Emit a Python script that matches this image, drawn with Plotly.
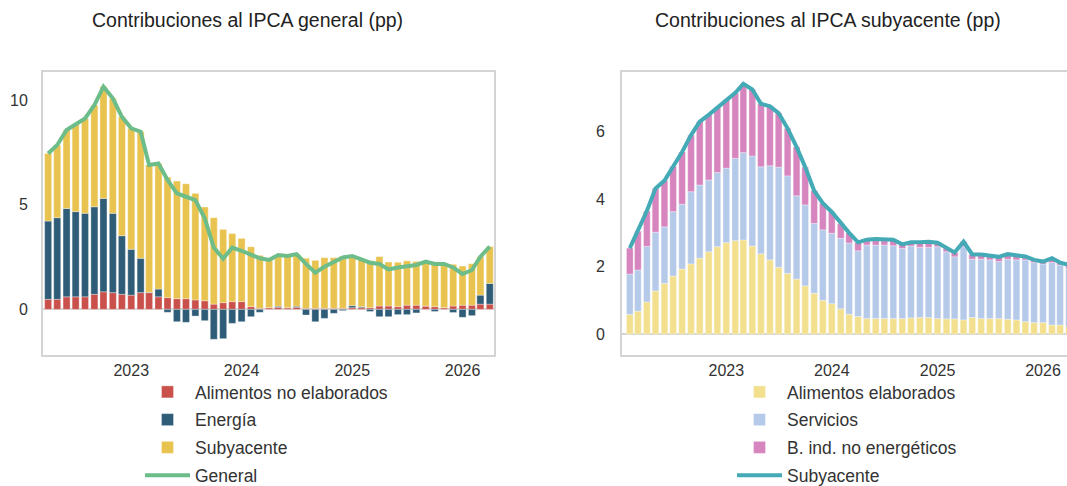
import plotly.graph_objects as go
import pandas as pd

# ---------------- data: left chart (Contribuciones al IPCA general) ----------------
months_general = pd.date_range("2022-04-01", periods=49, freq="MS")
alimentos_no_elab = [0.48, 0.48, 0.60, 0.60, 0.60, 0.72, 0.84, 0.80, 0.72, 0.68,
                     0.80, 0.80, 0.60, 0.56, 0.51, 0.51, 0.45, 0.41, 0.25, 0.32,
                     0.37, 0.37, 0.13, 0.05, 0.08, 0.10, 0.08, 0.10, 0.05, 0.05,
                     0.05, 0.05, 0.05, 0.08, 0.08, 0.08, 0.16, 0.16, 0.13, 0.20,
                     0.20, 0.16, 0.13, 0.08, 0.16, 0.20, 0.20, 0.25, 0.25]
energia = [3.74, 3.90, 4.22, 4.07, 3.99, 4.18, 4.46, 3.79, 2.80, 2.19,
           1.64, 0.02, 0.37, -0.14, -0.59, -0.62, -0.32, -0.54, -1.43, -1.40,
           -0.67, -0.59, -0.35, -0.14, 0.00, 0.05, 0.00, 0.05, -0.27, -0.59,
           -0.43, -0.19, -0.06, 0.10, 0.05, -0.10, -0.35, -0.35, -0.25, -0.25,
           -0.17, 0.00, -0.10, 0.00, -0.15, -0.38, -0.30, 0.43, 0.99]
subyacente_contrib = [3.23, 3.47, 3.75, 4.17, 4.53, 4.86, 5.34, 5.49, 5.68, 5.78,
                      6.05, 6.08, 6.00, 5.76, 5.62, 5.49, 5.09, 4.48, 4.13, 3.50,
                      3.25, 3.02, 2.86, 2.53, 2.28, 2.45, 2.47, 2.49, 2.39, 2.29,
                      2.42, 2.42, 2.49, 2.37, 2.26, 2.25, 2.36, 2.10, 2.12, 2.12,
                      2.09, 2.12, 2.14, 2.09, 1.99, 1.87, 1.98, 1.84, 1.76]
general = [7.45, 7.85, 8.57, 8.84, 9.12, 9.76, 10.64, 10.08, 9.20, 8.65,
           8.49, 6.90, 6.97, 6.18, 5.54, 5.38, 5.22, 4.35, 2.95, 2.42,
           2.95, 2.80, 2.64, 2.44, 2.36, 2.60, 2.55, 2.64, 2.17, 1.75,
           2.04, 2.28, 2.48, 2.55, 2.39, 2.23, 2.17, 1.91, 2.00, 2.07,
           2.12, 2.28, 2.17, 2.17, 2.00, 1.69, 1.88, 2.52, 3.00]

# ---------------- data: right chart (Contribuciones al IPCA subyacente) ----------------
months_core = pd.date_range("2022-02-01", periods=51, freq="MS")
alimentos_elab = [0.58, 0.68, 0.95, 1.28, 1.50, 1.72, 1.93, 2.08, 2.25, 2.44,
                  2.59, 2.71, 2.77, 2.79, 2.61, 2.38, 2.20, 1.98, 1.80, 1.63,
                  1.43, 1.21, 1.00, 0.90, 0.75, 0.59, 0.52, 0.46, 0.46, 0.46,
                  0.46, 0.46, 0.48, 0.49, 0.49, 0.46, 0.45, 0.45, 0.42, 0.49,
                  0.46, 0.46, 0.46, 0.44, 0.42, 0.37, 0.34, 0.34, 0.27, 0.27, 0.22]
servicios = [1.20, 1.22, 1.65, 1.74, 1.68, 1.91, 1.92, 2.14, 2.17, 2.13,
             2.20, 2.21, 2.44, 2.59, 2.67, 2.58, 2.79, 2.97, 2.89, 2.47,
             2.40, 2.07, 2.09, 2.09, 2.09, 2.11, 1.95, 2.18, 2.18, 2.18,
             2.16, 2.08, 2.13, 2.08, 2.08, 2.13, 1.99, 1.84, 2.17, 1.73,
             1.76, 1.74, 1.69, 1.78, 1.78, 1.83, 1.78, 1.74, 1.85, 1.78, 1.73]
bienes_no_energ = [0.77, 1.15, 1.05, 1.30, 1.37, 1.34, 1.55, 1.68, 1.88, 1.93,
                   1.93, 2.03, 1.94, 2.04, 1.97, 1.87, 1.76, 1.60, 1.41, 1.45,
                   1.12, 0.97, 0.79, 0.63, 0.44, 0.30, 0.25, 0.16, 0.18, 0.18,
                   0.18, 0.12, 0.11, 0.15, 0.17, 0.12, 0.12, 0.13, 0.15, 0.14,
                   0.14, 0.13, 0.14, 0.15, 0.15, 0.10, 0.08, 0.07, 0.13, 0.07, 0.10]
subyacente = [2.55, 3.05, 3.65, 4.32, 4.55, 4.97, 5.40, 5.90, 6.30, 6.50,
              6.72, 6.95, 7.15, 7.42, 7.25, 6.83, 6.75, 6.55, 6.10, 5.55,
              4.95, 4.25, 3.88, 3.62, 3.28, 3.00, 2.72, 2.80, 2.82, 2.82,
              2.80, 2.66, 2.72, 2.72, 2.74, 2.71, 2.56, 2.42, 2.74, 2.36,
              2.36, 2.33, 2.29, 2.37, 2.35, 2.30, 2.20, 2.15, 2.25, 2.12, 2.05]

year_ticks = ["2023-01-01", "2024-01-01", "2025-01-01", "2026-01-01"]
year_labels = ["2023", "2024", "2025", "2026"]

# ---------------- styling ----------------
W, H = 1067, 486
FONT = "Liberation Sans, Arial, sans-serif"
TXT = "#333333"
BORDER = "#d4d4d4"


def px_x(p):
    return p / W


def px_y(p):
    return 1 - p / H


fig = go.Figure()

bar_line = dict(color="rgba(255,255,255,0.55)", width=0.6)

fig.add_trace(go.Bar(x=months_general, y=alimentos_no_elab, name="Alimentos no elaborados",
                     marker=dict(color="#c9504b", line=bar_line), xaxis="x", yaxis="y",
                     legend="legend", legendgroup="a"))
fig.add_trace(go.Bar(x=months_general, y=energia, name="Energía",
                     marker=dict(color="#2f5d78", line=bar_line), xaxis="x", yaxis="y",
                     legend="legend", legendgroup="b"))
fig.add_trace(go.Bar(x=months_general, y=subyacente_contrib, name="Subyacente",
                     marker=dict(color="#e9c350", line=bar_line), xaxis="x", yaxis="y",
                     legend="legend", legendgroup="c"))
fig.add_trace(go.Scatter(x=months_general, y=general, name="General", mode="lines",
                         line=dict(color="#6dbd8a", width=4), xaxis="x", yaxis="y",
                         legend="legend", legendgroup="d"))

fig.add_trace(go.Bar(x=months_core, y=alimentos_elab, name="Alimentos elaborados",
                     marker=dict(color="#f3e08e", line=bar_line), xaxis="x2", yaxis="y2",
                     legend="legend2", legendgroup="e"))
fig.add_trace(go.Bar(x=months_core, y=servicios, name="Servicios",
                     marker=dict(color="#b5c9e9", line=bar_line), xaxis="x2", yaxis="y2",
                     legend="legend2", legendgroup="f"))
fig.add_trace(go.Bar(x=months_core, y=bienes_no_energ, name="B. ind. no energéticos",
                     marker=dict(color="#d785bf", line=bar_line), xaxis="x2", yaxis="y2",
                     legend="legend2", legendgroup="g"))
fig.add_trace(go.Scatter(x=months_core, y=subyacente, name="Subyacente", mode="lines",
                         line=dict(color="#43aab6", width=4), xaxis="x2", yaxis="y2",
                         legend="legend2", legendgroup="h"))

ydom = [px_y(355), px_y(72)]
axis_common = dict(showgrid=False, showline=True, linecolor=BORDER, linewidth=2,
                   automargin=False,
                   tickfont=dict(family=FONT, size=16, color=TXT))

legend_common = dict(xanchor="left", yanchor="top", traceorder="grouped",
                     tracegroupgap=2, itemwidth=45,
                     font=dict(family=FONT, size=17.5, color=TXT),
                     bgcolor="rgba(0,0,0,0)")

fig.update_layout(
    width=W, height=H,
    margin=dict(l=0, r=0, t=0, b=0, autoexpand=False),
    paper_bgcolor="white", plot_bgcolor="white",
    barmode="relative", bargap=0.17,
    font=dict(family=FONT, color=TXT),
    xaxis=dict(domain=[px_x(43), px_x(494)], anchor="y", type="date",
               range=["2022-03-15", "2026-04-15"], mirror=True,
               tickvals=year_ticks, ticktext=year_labels,
               ticks="outside", ticklen=0, tickcolor="rgba(0,0,0,0)", **axis_common),
    yaxis=dict(domain=ydom, anchor="x", range=[-2.18, 11.34], mirror=True,
               tickvals=[0, 5, 10], zeroline=True, zerolinecolor=BORDER, zerolinewidth=1.5,
               ticks="outside", ticklen=10, tickcolor="rgba(0,0,0,0)", **axis_common),
    xaxis2=dict(domain=[px_x(622), 1.0], anchor="y2", type="date",
                range=["2022-01-05", "2026-03-25"], mirror=True,
                tickvals=year_ticks, ticktext=year_labels,
                ticks="outside", ticklen=0, tickcolor="rgba(0,0,0,0)", **axis_common),
    yaxis2=dict(domain=ydom, anchor="x2", range=[-0.62, 7.77], mirror=False,
                tickvals=[0, 2, 4, 6], zeroline=True, zerolinecolor=BORDER, zerolinewidth=1.5,
                ticks="outside", ticklen=12, tickcolor="rgba(0,0,0,0)", **axis_common),
    legend=dict(x=px_x(140), y=px_y(374), **legend_common),
    legend2=dict(x=px_x(732), y=px_y(374), **legend_common),
    annotations=[
        dict(text="Contribuciones al IPCA general (pp)", x=px_x(247), y=px_y(20),
             xref="paper", yref="paper", showarrow=False, xanchor="center", yanchor="middle",
             font=dict(family=FONT, size=19.5, color="#222222")),
        dict(text="Contribuciones al IPCA subyacente (pp)", x=px_x(828), y=px_y(20),
             xref="paper", yref="paper", showarrow=False, xanchor="center", yanchor="middle",
             font=dict(family=FONT, size=19.5, color="#222222")),
    ],
    showlegend=True,
)

fig.write_html(
    "out.html",
    config={"displayModeBar": False},
    post_script="document.body.style.margin='0';"
                "document.body.style.overflow='hidden';"
                "document.documentElement.style.overflow='hidden';",
)
